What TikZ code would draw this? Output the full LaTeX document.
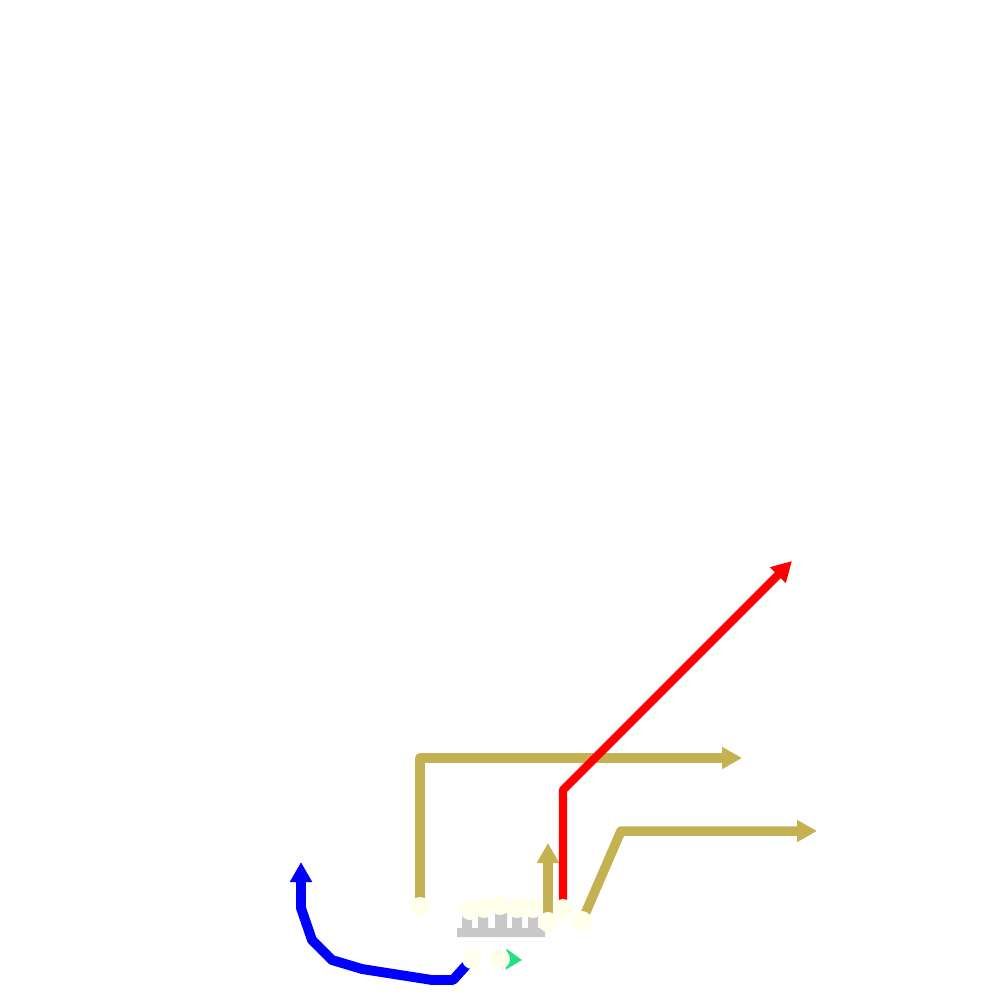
\documentclass[tikz,border=0pt]{standalone}
\usetikzlibrary{arrows.meta}
\definecolor{gold}{RGB}{196,178,82}
\definecolor{ivory}{RGB}{255,255,236}
\definecolor{combgray}{RGB}{200,200,200}
\definecolor{mint}{RGB}{32,224,128}
\begin{document}
\begin{tikzpicture}[x=0.1mm, y=-0.1mm,
  dot/.style={circle, fill=ivory, minimum size=2mm, inner sep=0pt},
  wire/.style={line width=2.7pt, line join=round, -{Triangle[length=2mm, width=2.1mm]}},
  comb/.style={fill=combgray}
]
  \useasboundingbox (0,0) rectangle (1000,1000);
  % Bends and free ends
  \coordinate (goldtopL)  at (420,758);
  \coordinate (goldendL)  at (742,758);
  \coordinate (goldendM)  at (548,843);
  \coordinate (goldknee)  at (621,831);
  \coordinate (goldendR)  at (817,831);
  \coordinate (redknee)   at (563,790);
  \coordinate (redend)    at (792,561);
  \coordinate (greenend)  at (522,960);
  % Contacts
  \coordinate (pL)  at (420,907);
  \coordinate (pM)  at (548,922);
  \coordinate (pR)  at (582,921);
  \coordinate (pT)  at (563,909);
  \coordinate (pB1) at (472,959);
  \coordinate (pB2) at (500,959);
  % Comb
  \fill[comb] (457,937) -- (457,928) -- (462,928) -- (462,916) -- (472,916) -- (472,928)
    -- (478,928) -- (478,916) -- (488,916) -- (488,928) -- (495,928) -- (495,913)
    -- (507,913) -- (507,928) -- (512,928) -- (512,916) -- (522,916) -- (522,928)
    -- (528,928) -- (528,916) -- (538,916) -- (538,928) -- (545,928) -- (545,937) -- cycle;
  % Connectors
  \draw[wire, gold] (pL) -- (goldtopL) -- (goldendL);
  \draw[wire, gold] (pM) -- (goldendM);
  \draw[wire, gold] (pR) -- (goldknee) -- (goldendR);
  \draw[wire, red, line width=2.4pt] (pT) -- (redknee) -- (redend);
  \draw[wire, blue, line width=2.8pt] (pB1) -- (453,980) -- (432,980) -- (362,969)
    -- (332,960) -- (312,940) -- (301,908) -- (301,862);
  \draw[mint, line width=1pt, -{Triangle[length=1.6mm, width=2mm]}] (pB2) -- (greenend);
  % Dots
  \node[dot] (dL)  at (pL)  {};
  \node[dot] (c1)  at (470,910) {};
  \node[dot] (c2)  at (484,908) {};
  \node[dot] (c3)  at (500,905) {};
  \node[dot] (c4)  at (517,908) {};
  \node[dot] (c5)  at (533,908) {};
  \node[dot] (dM)  at (pM)  {};
  \node[dot] (dT)  at (pT)  {};
  \node[dot] (dR)  at (pR)  {};
  \node[dot] (dB1) at (pB1) {};
  \node[dot] (dB2) at (pB2) {};
\end{tikzpicture}
\end{document}
